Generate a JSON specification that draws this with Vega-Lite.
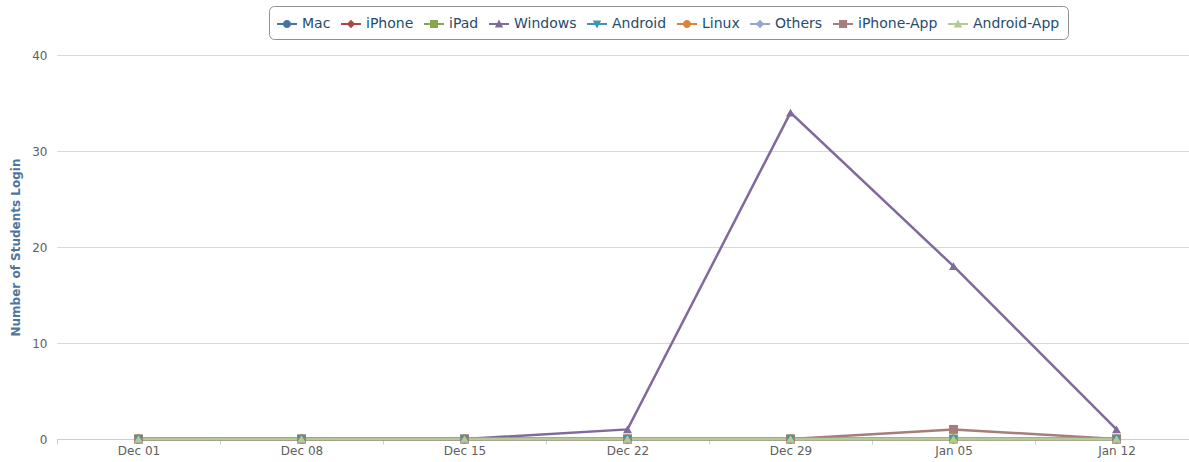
{
  "$schema": "https://vega.github.io/schema/vega-lite/v6.json",
  "width": 1141,
  "height": 384,
  "autosize": {"type": "none"},
  "padding": {"left": 57, "top": 55, "right": 0, "bottom": 23},
  "background": "white",
  "config": {"view": {"stroke": null}, "font": "DejaVu Sans"},
  "data": {
    "values": [
      {"d": "Dec 01", "s": "Mac", "v": 0}, {"d": "Dec 08", "s": "Mac", "v": 0}, {"d": "Dec 15", "s": "Mac", "v": 0}, {"d": "Dec 22", "s": "Mac", "v": 0}, {"d": "Dec 29", "s": "Mac", "v": 0}, {"d": "Jan 05", "s": "Mac", "v": 0}, {"d": "Jan 12", "s": "Mac", "v": 0},
      {"d": "Dec 01", "s": "iPhone", "v": 0}, {"d": "Dec 08", "s": "iPhone", "v": 0}, {"d": "Dec 15", "s": "iPhone", "v": 0}, {"d": "Dec 22", "s": "iPhone", "v": 0}, {"d": "Dec 29", "s": "iPhone", "v": 0}, {"d": "Jan 05", "s": "iPhone", "v": 0}, {"d": "Jan 12", "s": "iPhone", "v": 0},
      {"d": "Dec 01", "s": "iPad", "v": 0}, {"d": "Dec 08", "s": "iPad", "v": 0}, {"d": "Dec 15", "s": "iPad", "v": 0}, {"d": "Dec 22", "s": "iPad", "v": 0}, {"d": "Dec 29", "s": "iPad", "v": 0}, {"d": "Jan 05", "s": "iPad", "v": 0}, {"d": "Jan 12", "s": "iPad", "v": 0},
      {"d": "Dec 01", "s": "Windows", "v": 0}, {"d": "Dec 08", "s": "Windows", "v": 0}, {"d": "Dec 15", "s": "Windows", "v": 0}, {"d": "Dec 22", "s": "Windows", "v": 1}, {"d": "Dec 29", "s": "Windows", "v": 34}, {"d": "Jan 05", "s": "Windows", "v": 18}, {"d": "Jan 12", "s": "Windows", "v": 1},
      {"d": "Dec 01", "s": "Android", "v": 0}, {"d": "Dec 08", "s": "Android", "v": 0}, {"d": "Dec 15", "s": "Android", "v": 0}, {"d": "Dec 22", "s": "Android", "v": 0}, {"d": "Dec 29", "s": "Android", "v": 0}, {"d": "Jan 05", "s": "Android", "v": 0}, {"d": "Jan 12", "s": "Android", "v": 0},
      {"d": "Dec 01", "s": "Linux", "v": 0}, {"d": "Dec 08", "s": "Linux", "v": 0}, {"d": "Dec 15", "s": "Linux", "v": 0}, {"d": "Dec 22", "s": "Linux", "v": 0}, {"d": "Dec 29", "s": "Linux", "v": 0}, {"d": "Jan 05", "s": "Linux", "v": 0}, {"d": "Jan 12", "s": "Linux", "v": 0},
      {"d": "Dec 01", "s": "Others", "v": 0}, {"d": "Dec 08", "s": "Others", "v": 0}, {"d": "Dec 15", "s": "Others", "v": 0}, {"d": "Dec 22", "s": "Others", "v": 0}, {"d": "Dec 29", "s": "Others", "v": 0}, {"d": "Jan 05", "s": "Others", "v": 0}, {"d": "Jan 12", "s": "Others", "v": 0},
      {"d": "Dec 01", "s": "iPhone-App", "v": 0}, {"d": "Dec 08", "s": "iPhone-App", "v": 0}, {"d": "Dec 15", "s": "iPhone-App", "v": 0}, {"d": "Dec 22", "s": "iPhone-App", "v": 0}, {"d": "Dec 29", "s": "iPhone-App", "v": 0}, {"d": "Jan 05", "s": "iPhone-App", "v": 1}, {"d": "Jan 12", "s": "iPhone-App", "v": 0},
      {"d": "Dec 01", "s": "Android-App", "v": 0}, {"d": "Dec 08", "s": "Android-App", "v": 0}, {"d": "Dec 15", "s": "Android-App", "v": 0}, {"d": "Dec 22", "s": "Android-App", "v": 0}, {"d": "Dec 29", "s": "Android-App", "v": 0}, {"d": "Jan 05", "s": "Android-App", "v": 0}, {"d": "Jan 12", "s": "Android-App", "v": 0}
    ]
  },
  "encoding": {
    "x": {
      "field": "d",
      "type": "ordinal",
      "sort": null,
      "scale": {"type": "band", "paddingInner": 0, "paddingOuter": 0},
      "axis": {
        "title": null,
        "tickBand": "extent",
        "tickSize": 5,
        "tickColor": "#C0D0E0",
        "domainColor": "#C0D0E0",
        "labelAngle": 0,
        "labelFontSize": 12,
        "labelColor": "#606060",
        "labelPadding": 1,
        "grid": false
      }
    },
    "y": {
      "field": "v",
      "type": "quantitative",
      "scale": {"domain": [0, 40], "nice": false},
      "axis": {
        "title": "Number of Students Login",
        "values": [0, 10, 20, 30, 40],
        "grid": true,
        "gridColor": "#D8D8D8",
        "domain": false,
        "ticks": false,
        "tickSize": 0,
        "labelPadding": 10,
        "labelFontSize": 12,
        "labelColor": "#606060",
        "titleFontSize": 12,
        "titleColor": "#4d759e",
        "titleFontWeight": "bold",
        "titleX": -42,
        "titleY": 192,
        "titleAngle": -90,
        "titleBaseline": "middle",
        "titleAlign": "center"
      }
    }
  },
  "layer": [
    {
      "mark": {"type": "point", "filled": true, "size": 400, "opacity": 0},
      "encoding": {
        "color": {
          "field": "s",
          "type": "nominal",
          "scale": {
            "domain": ["Mac", "iPhone", "iPad", "Windows", "Android", "Linux", "Others", "iPhone-App", "Android-App"],
            "range": ["#4572A7", "#AA4643", "#89A54E", "#80699B", "#3D96AE", "#DB843D", "#92A8CD", "#A47D7C", "#B5CA92"]
          },
          "legend": {
            "orient": "none",
            "legendX": 212,
            "legendY": -49,
            "direction": "horizontal",
            "title": null,
            "strokeColor": "#909090",
            "cornerRadius": 5,
            "padding": 8,
            "labelFontSize": 14,
            "labelColor": "#274b6d",
            "labelFont": "DejaVu Sans",
            "symbolSize": 400,
            "symbolStrokeWidth": 0,
            "symbolOpacity": 1,
            "columnPadding": 10,
            "labelOffset": 5,
            "encode": {"symbols": {"update": {"opacity": {"value": 1}, "fillOpacity": {"value": 1}, "strokeWidth": {"value": 0}}}}
          }
        },
        "shape": {
          "field": "s",
          "type": "nominal",
          "scale": {
            "domain": ["Mac", "iPhone", "iPad", "Windows", "Android", "Linux", "Others", "iPhone-App", "Android-App"],
            "range": [
              "M-1,-0.1H1V0.1H-1Z M0.4,0A0.4,0.4,0,1,1,-0.4,0A0.4,0.4,0,1,1,0.4,0Z",
              "M-1,-0.1H1V0.1H-1Z M0,-0.42L0.42,0L0,0.42L-0.42,0Z",
              "M-1,-0.1H1V0.1H-1Z M-0.4,-0.4H0.4V0.4H-0.4Z",
              "M-1,-0.1H1V0.1H-1Z M0,-0.45L0.42,0.35H-0.42Z",
              "M-1,-0.1H1V0.1H-1Z M0,0.45L-0.42,-0.35H0.42Z",
              "M-1,-0.1H1V0.1H-1Z M0.4,0A0.4,0.4,0,1,1,-0.4,0A0.4,0.4,0,1,1,0.4,0Z",
              "M-1,-0.1H1V0.1H-1Z M0,-0.42L0.42,0L0,0.42L-0.42,0Z",
              "M-1,-0.1H1V0.1H-1Z M-0.4,-0.4H0.4V0.4H-0.4Z",
              "M-1,-0.1H1V0.1H-1Z M0,-0.45L0.42,0.35H-0.42Z"
            ]
          },
          "legend": {
            "orient": "none",
            "legendX": 212,
            "legendY": -49,
            "direction": "horizontal",
            "title": null,
            "strokeColor": "#909090",
            "cornerRadius": 5,
            "padding": 8,
            "labelFontSize": 14,
            "labelColor": "#274b6d",
            "labelFont": "DejaVu Sans",
            "symbolSize": 400,
            "symbolStrokeWidth": 0,
            "symbolOpacity": 1,
            "columnPadding": 10,
            "labelOffset": 5,
            "encode": {"symbols": {"update": {"opacity": {"value": 1}, "fillOpacity": {"value": 1}, "strokeWidth": {"value": 0}}}}
          }
        }
      }
    },
    {
      "mark": {"type": "line", "strokeWidth": 2.5},
      "encoding": {"color": {"field": "s", "type": "nominal"}}
    },
    {
      "transform": [{"filter": {"field": "s", "oneOf": ["Mac", "Linux"]}}],
      "mark": {"type": "point", "filled": true, "shape": "circle", "size": 80, "opacity": 1},
      "encoding": {"color": {"field": "s", "type": "nominal"}}
    },
    {
      "transform": [{"filter": {"field": "s", "oneOf": ["iPhone", "Others"]}}],
      "mark": {"type": "point", "filled": true, "shape": "diamond", "size": 80, "opacity": 1},
      "encoding": {"color": {"field": "s", "type": "nominal"}}
    },
    {
      "transform": [{"filter": {"field": "s", "oneOf": ["iPad", "iPhone-App"]}}],
      "mark": {"type": "point", "filled": true, "shape": "square", "size": 80, "opacity": 1},
      "encoding": {"color": {"field": "s", "type": "nominal"}}
    },
    {
      "transform": [{"filter": {"field": "s", "oneOf": ["Android"]}}],
      "mark": {"type": "point", "filled": true, "shape": "triangle-down", "size": 80, "opacity": 1},
      "encoding": {"color": {"field": "s", "type": "nominal"}}
    },
    {
      "transform": [{"filter": {"field": "s", "oneOf": ["Windows", "Android-App"]}}],
      "mark": {"type": "point", "filled": true, "shape": "triangle-up", "size": 80, "opacity": 1},
      "encoding": {"color": {"field": "s", "type": "nominal"}}
    }
  ]
}
